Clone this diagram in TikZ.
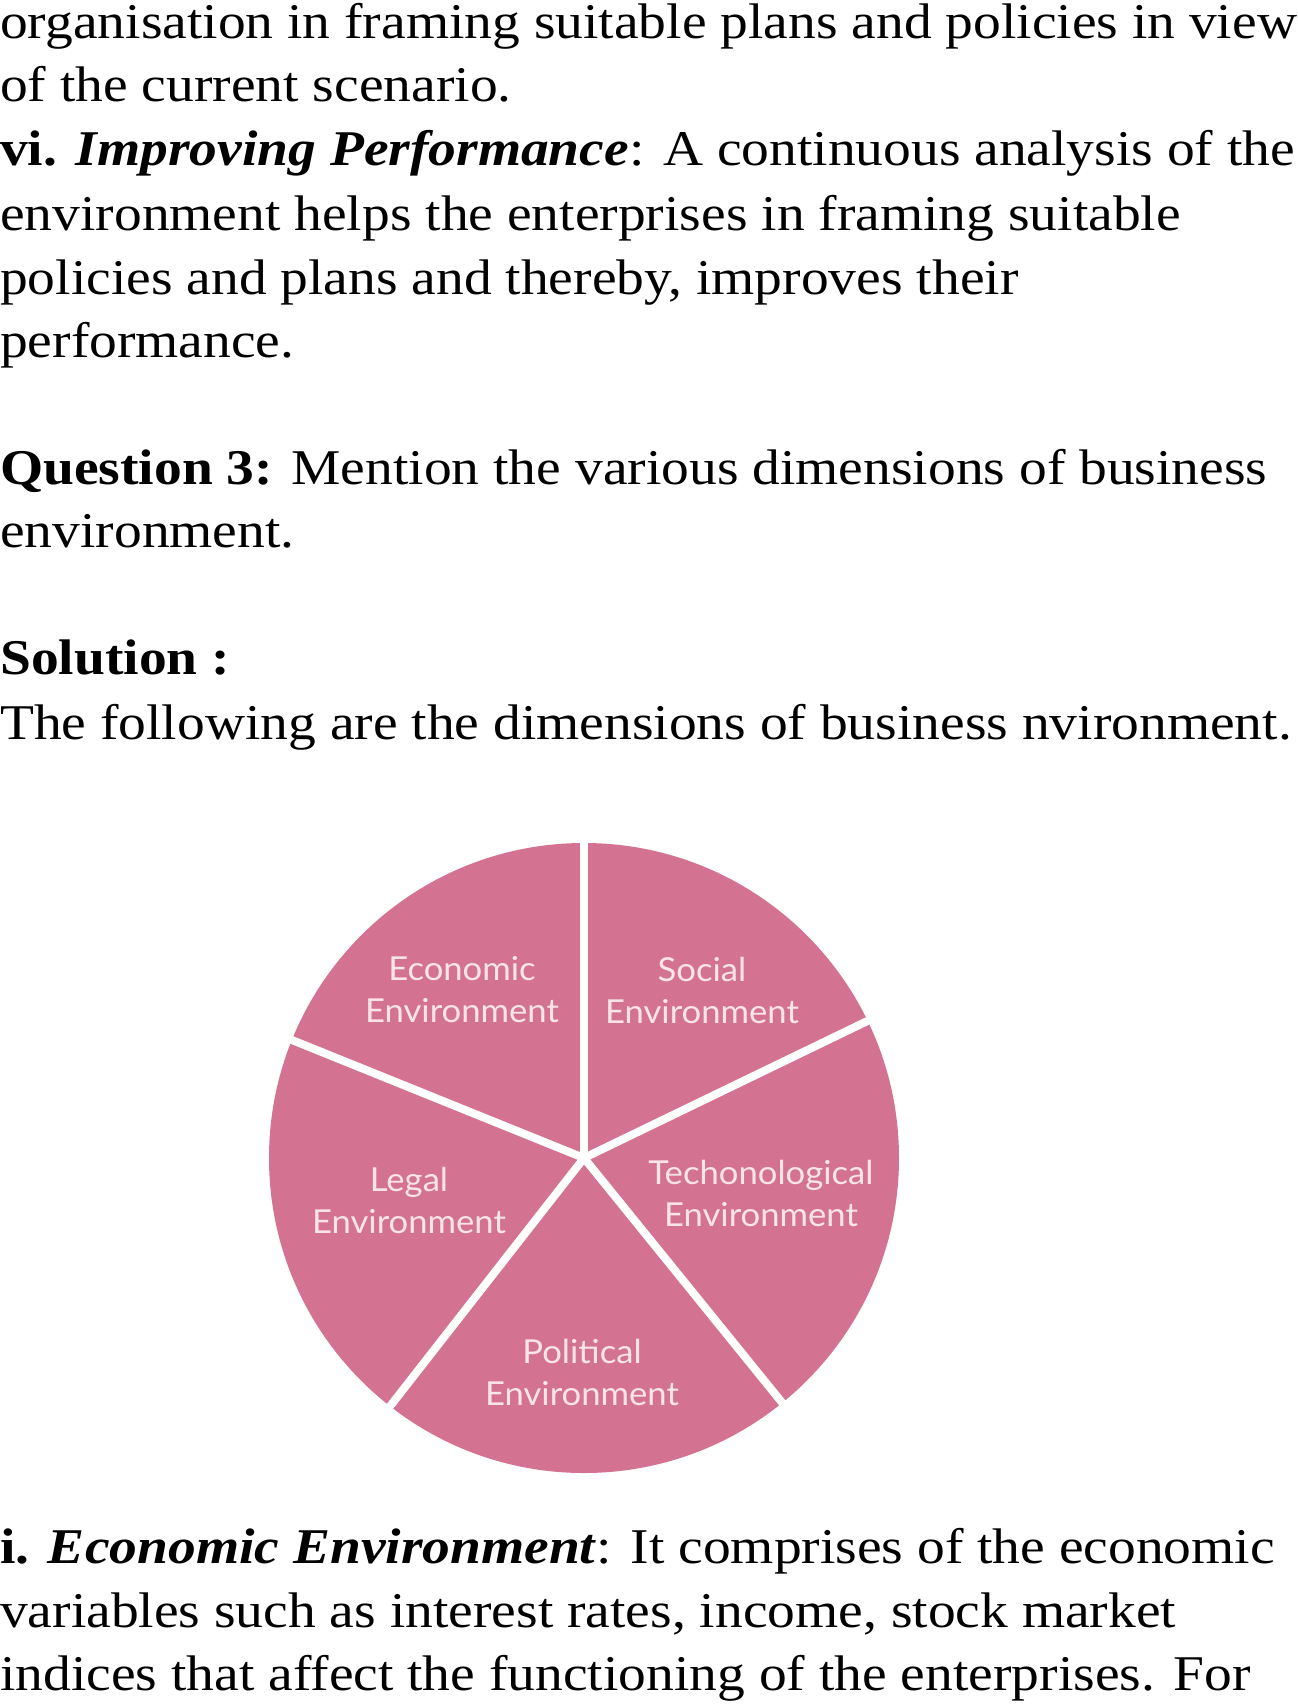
\documentclass[tikz,border=0pt]{standalone}
\usepackage{fontspec}
\setmainfont{Liberation Serif}[FakeStretch=1.11]
\newfontfamily\piefont{Lato}[FakeStretch=1.05]
\definecolor{piecol}{RGB}{212,115,145}
\definecolor{pietext}{RGB}{250,228,235}
\begin{document}
\begin{tikzpicture}[x=1pt,y=1pt,
  body/.style={anchor=base west,inner sep=0pt,font=\fontsize{50}{60}\selectfont},
  lab/.style={align=center,text=pietext,font=\piefont\fontsize{33}{42}\selectfont,inner sep=0pt}]
\useasboundingbox (0,0) rectangle (1298,-1705);
\fill[white] (0,0) rectangle (1298,-1705);
\node[body] (l1) at (0,-38) {organisation in framing suitable plans and policies in view};
\node[body] (l2) at (0,-101) {of the current scenario.};
\node[body] (l3) at (0,-165) {\textbf{vi.} \textbf{\textit{Improving Performance}}: A continuous analysis of the};
\node[body] (l4) at (0,-230) {environment helps the enterprises in framing suitable};
\node[body] (l5) at (0,-294) {policies and plans and thereby, improves their};
\node[body] (l6) at (0,-357) {performance.};
\node[body] (l7) at (0,-484) {\textbf{Question 3:} Mention the various dimensions of business};
\node[body] (l8) at (0,-547) {environment.};
\node[body] (l9) at (0,-674) {\textbf{Solution :}};
\node[body] (l10) at (0,-739) {The following are the dimensions of business nvironment.};
\node[body] (l11) at (0,-1563) {\textbf{i.} \textbf{\textit{Economic Environment}}: It comprises of the economic};
\node[body] (l12) at (0,-1627) {variables such as interest rates, income, stock market};
\node[body] (l13) at (0,-1690) {indices that affect the functioning of the enterprises. For};
\coordinate (c) at (584,-1158);
\fill[piecol] (c) circle (315);
\foreach \a in {90,25.8,-51,-128,158}
  \draw[white,line width=8] (c) -- ++(\a:320);
\node[lab] (e) at (462,-990) {Economic\\Environment};
\node[lab] (s) at (702,-990) {Social\\Environment};
\node[lab] (t) at (761,-1193) {Techonological\\Environment};
\node[lab] (g) at (409,-1200) {Legal\\Environment};
\node[lab] (p) at (582,-1372) {Political\\Environment};
\end{tikzpicture}
\end{document}
